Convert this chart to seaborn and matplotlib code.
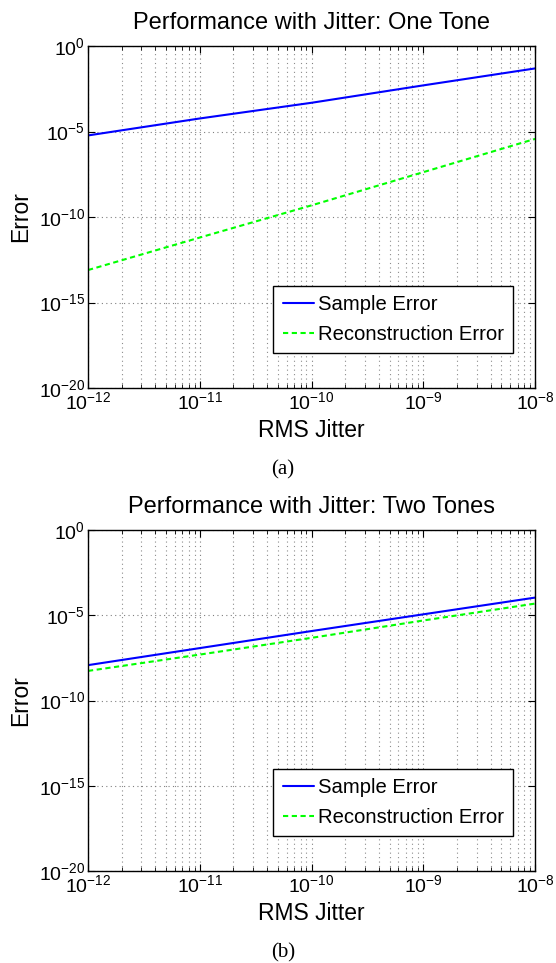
import numpy as np
import pandas as pd
import matplotlib
matplotlib.use("Agg")
import matplotlib.pyplot as plt
import matplotlib.ticker as mticker
import seaborn as sns

# ---- data ----
jitter = [1e-12, 1e-11, 1e-10, 1e-9, 1e-8]
one_tone_sample = [5.9e-6, 5.8e-5, 4.8e-4, 5.0e-3, 4.9e-2]
one_tone_recon = [7.9e-14, 6.3e-12, 4.8e-10, 4.2e-8, 3.7e-6]
two_tone_sample = [1.2e-8, 1.2e-7, 1.2e-6, 1.15e-5, 1.1e-4]
two_tone_recon = [5.5e-9, 5.0e-8, 4.8e-7, 5.0e-6, 4.9e-5]
series_names = ["Sample Error", "Reconstruction Error"]
titles = ["Performance with Jitter: One Tone", "Performance with Jitter: Two Tones"]
captions = ["(a)", "(b)"]

sns.set_theme(style="ticks")
plt.rcParams["font.family"] = ["Liberation Sans", "DejaVu Sans"]
plt.rcParams["mathtext.fontset"] = "custom"
plt.rcParams["mathtext.rm"] = "Liberation Sans"
plt.rcParams["mathtext.it"] = "Liberation Sans:italic"
plt.rcParams["mathtext.bf"] = "Liberation Sans:bold"
plt.rcParams["text.color"] = "black"
plt.rcParams["axes.labelcolor"] = "black"
plt.rcParams["axes.titlecolor"] = "black"
plt.rcParams["xtick.color"] = "black"
plt.rcParams["ytick.color"] = "black"

fig = plt.figure(figsize=(5.56, 9.63), dpi=100)
ax_rects = [[0.1583, 0.5971, 0.804, 0.3551], [0.1583, 0.0955, 0.804, 0.354]]
datasets = [(one_tone_sample, one_tone_recon), (two_tone_sample, two_tone_recon)]
caption_y = [0.512, 0.0105]

for rect, (s, r), title, cap, cy in zip(ax_rects, datasets, titles, captions, caption_y):
    ax = fig.add_axes(rect)
    df = pd.DataFrame({
        "jitter": jitter + jitter,
        "error": s + r,
        "series": [series_names[0]] * len(s) + [series_names[1]] * len(r),
    })
    sns.lineplot(data=df, x="jitter", y="error", hue="series", style="series",
                 palette=["#0000ff", "#00ff00"], dashes=[(None, None), (2.5, 1.7)],
                 linewidth=1.5, ax=ax)
    ax.set_xscale("log")
    ax.set_yscale("log")
    ax.set_xlim(1e-12, 1e-8)
    ax.set_ylim(1e-20, 1e0)
    ax.xaxis.set_major_locator(mticker.LogLocator(base=10, numticks=10))
    ax.xaxis.set_minor_locator(mticker.LogLocator(base=10, subs=np.arange(2, 10), numticks=20))
    ax.xaxis.set_minor_formatter(mticker.NullFormatter())
    ax.yaxis.set_major_locator(mticker.FixedLocator([1e-20, 1e-15, 1e-10, 1e-5, 1e0]))
    ax.yaxis.set_major_formatter(mticker.LogFormatterSciNotation())
    ax.yaxis.set_minor_locator(mticker.NullLocator())
    ax.grid(True, which="major", axis="both", color="#808080", linestyle=(0, (1, 3)), linewidth=0.8)
    ax.grid(True, which="minor", axis="x", color="#8c8c8c", linestyle=(0, (1, 3)), linewidth=0.8)
    ax.tick_params(which="both", direction="in", top=True, right=True, colors="black", labelsize=14)
    ax.tick_params(which="major", length=5, width=0.8)
    ax.tick_params(which="minor", length=3, width=0.6)
    ax.tick_params(axis="y", pad=2)
    ax.tick_params(axis="x", pad=2)
    for sp in ax.spines.values():
        sp.set_color("black")
        sp.set_linewidth(1.0)
    ax.set_title(title, fontsize=17, pad=12, color="black")
    ax.set_xlabel("RMS Jitter", fontsize=16.5, color="black")
    ax.set_ylabel("Error", fontsize=16.5, color="black")
    ax.xaxis.set_label_coords(0.5, -0.092)
    ax.yaxis.set_label_coords(-0.125, 0.5)
    leg = ax.legend(loc="lower right", bbox_to_anchor=(0.951, 0.102), fontsize=14.6,
                    frameon=True, fancybox=False, edgecolor="black", framealpha=1,
                    handlelength=1.55, handletextpad=0.2, borderpad=0.45, labelspacing=0.55,
                    borderaxespad=0)
    leg.get_frame().set_linewidth(1.0)
    for t in leg.get_texts():
        t.set_color("black")
    fig.text(0.509, cy, cap, ha="center", va="center", fontsize=15, color="black",
             family=["Liberation Serif", "DejaVu Serif"])

fig.savefig("out.png", dpi=100)
